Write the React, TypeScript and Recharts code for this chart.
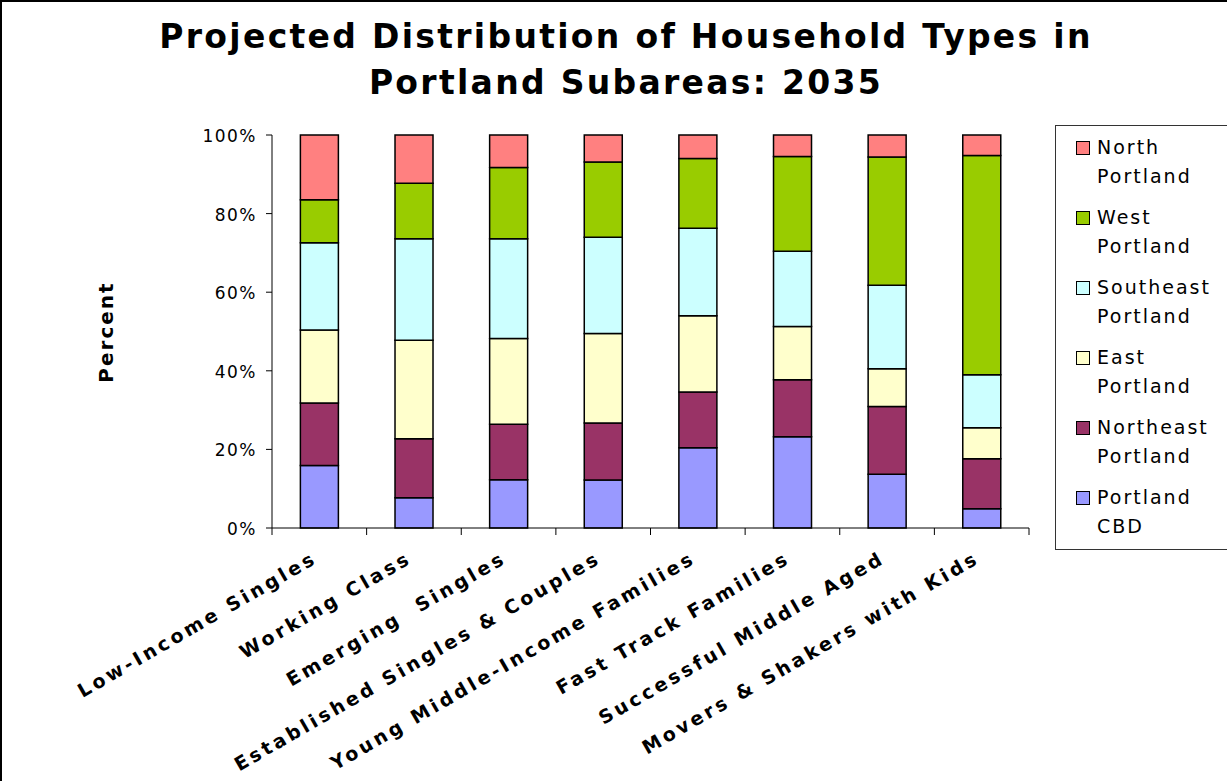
import { BarChart, Bar, XAxis, YAxis } from 'recharts'

// ── Data (percent of households) ──────────────────────────────────────────────

const CATEGORIES = [
  'Low-Income Singles',
  'Working Class',
  'Emerging  Singles',
  'Established Singles & Couples',
  'Young Middle-Income Families',
  'Fast Track Families',
  'Successful Middle Aged',
  'Movers & Shakers with Kids',
]

const CBD       = [15.9, 7.7, 12.3, 12.2, 20.4, 23.2, 13.7, 4.9]
const NORTHEAST = [15.9, 15.0, 14.1, 14.5, 14.2, 14.5, 17.2, 12.7]
const EAST      = [18.6, 25.1, 21.8, 22.8, 19.4, 13.6, 9.6, 7.9]
const SOUTHEAST = [22.2, 25.8, 25.4, 24.5, 22.3, 19.1, 21.3, 13.5]
const WEST      = [10.9, 14.1, 18.1, 19.1, 17.7, 24.1, 32.6, 55.8]
const NORTH     = [16.5, 12.3, 8.3, 6.9, 6.0, 5.5, 5.6, 5.2]

const Y_TICKS = [0, 0.2, 0.4, 0.6, 0.8, 1]

// bottom of the stack first
const SERIES = [
  { key: 'cbd',   name: 'Portland CBD',       color: '#9999FF', values: CBD },
  { key: 'ne',    name: 'Northeast Portland', color: '#993366', values: NORTHEAST },
  { key: 'east',  name: 'East Portland',      color: '#FFFFCC', values: EAST },
  { key: 'se',    name: 'Southeast Portland', color: '#CCFFFF', values: SOUTHEAST },
  { key: 'west',  name: 'West Portland',      color: '#99CC00', values: WEST },
  { key: 'north', name: 'North Portland',     color: '#FF8080', values: NORTH },
]

const data = CATEGORIES.map((cat, i) => {
  const row: Record<string, string | number> = { cat }
  SERIES.forEach(s => { row[s.key] = s.values[i] })
  return row
})

// ── Layout ───────────────────────────────────────────────────────────────────

const W = 1227
const H = 781
const M = { top: 135, right: 198, bottom: 53, left: 212 }
const Y_W = 60
const X_H = 200
const AXIS_Y = H - M.bottom - X_H
const BAND = (W - M.left - Y_W - M.right) / CATEGORIES.length

const SANS = '"DejaVu Sans", Verdana, sans-serif'

// eslint-disable-next-line @typescript-eslint/no-explicit-any
function XTick({ x, payload, index }: any) {
  const lx = x - 1
  const ly = AXIS_Y + 34
  return (
    <g>
      <line x1={x + BAND / 2} x2={x + BAND / 2} y1={AXIS_Y} y2={AXIS_Y + 7} stroke="#000" />
      {index === 0 && (
        <line x1={x - BAND / 2} x2={x - BAND / 2} y1={AXIS_Y} y2={AXIS_Y + 7} stroke="#000" />
      )}
      <text
        x={lx}
        y={ly}
        textAnchor="end"
        transform={`rotate(-30, ${lx}, ${ly})`}
        fontFamily={SANS}
        fontWeight="bold"
        fontSize={19}
        letterSpacing={3.3}
        fill="#000"
        style={{ whiteSpace: 'pre' }}
      >
        {payload.value}
      </text>
    </g>
  )
}

// eslint-disable-next-line @typescript-eslint/no-explicit-any
function YTick({ x, y, payload }: any) {
  return (
    <text x={x} y={y + 7} textAnchor="end" fontFamily={SANS} fontSize={17} letterSpacing={1.5} fill="#000">
      {`${Math.round(payload.value * 100)}%`}
    </text>
  )
}

function LegendBox() {
  return (
    <div
      style={{
        position: 'absolute', left: 1053, top: 123, width: 190, height: 425,
        border: '1px solid #333', boxSizing: 'border-box', paddingTop: 7,
        fontFamily: SANS, fontSize: 19, letterSpacing: 2, color: '#000',
      }}
    >
      {[...SERIES].reverse().map(s => {
        const cut = s.name.indexOf(' ')
        return (
          <div key={s.key} style={{ display: 'flex', height: 70, lineHeight: '29px' }}>
            <span
              style={{
                width: 12, height: 12, marginLeft: 20, marginTop: 8, marginRight: 7,
                background: s.color, border: '1px solid #000', flexShrink: 0,
              }}
            />
            <div>
              <div>{s.name.slice(0, cut)}</div>
              <div>{s.name.slice(cut + 1)}</div>
            </div>
          </div>
        )
      })}
    </div>
  )
}

export default function App() {
  return (
    <div
      style={{
        position: 'absolute', left: 0, top: 0, width: W, height: H, overflow: 'hidden',
        background: '#fff', borderTop: '2px solid #000', borderLeft: '2px solid #000',
        boxSizing: 'border-box',
      }}
    >
      <div
        style={{
          position: 'absolute', left: -2, top: 12, width: 1252, textAlign: 'center',
          fontFamily: SANS, fontWeight: 'bold', fontSize: 33, lineHeight: '46px', letterSpacing: 2.3,
        }}
      >
        Projected Distribution of Household Types in
        <br />
        Portland Subareas: 2035
      </div>

      <div
        style={{
          position: 'absolute', left: 106 - 2 - 60, top: 332 - 2 - 14, width: 120, height: 28,
          transform: 'rotate(-90deg)', textAlign: 'center', lineHeight: '28px',
          fontFamily: SANS, fontWeight: 'bold', fontSize: 20, letterSpacing: 2,
        }}
      >
        Percent
      </div>

      <div style={{ position: 'absolute', left: -2, top: -2 }}>
        <BarChart width={W} height={H} data={data} margin={M} stackOffset="expand" barCategoryGap="30%">
          <XAxis
            dataKey="cat"
            height={X_H}
            interval={0}
            tickLine={false}
            axisLine={{ stroke: '#000' }}
            tick={<XTick />}
          />
          <YAxis
            width={Y_W}
            domain={[0, 1]}
            ticks={Y_TICKS}
            interval={0}
            tickSize={6}
            tickMargin={9}
            axisLine={{ stroke: '#000' }}
            tickLine={{ stroke: '#000' }}
            tick={<YTick />}
          />
          {SERIES.map(s => (
            <Bar
              key={s.key}
              dataKey={s.key}
              name={s.name}
              stackId="a"
              fill={s.color}
              stroke="#000"
              strokeWidth={1.5}
              isAnimationActive={false}
            />
          ))}
        </BarChart>
      </div>

      <LegendBox />
    </div>
  )
}
